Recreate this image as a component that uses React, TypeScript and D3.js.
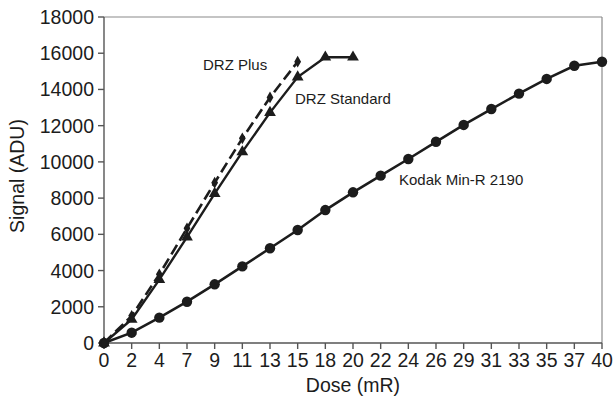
import React from 'react';
import * as d3 from 'd3';

const doseLabels = ['0', '2', '4', '7', '9', '11', '13', '15', '18', '20', '22', '24', '26', '29', '31', '33', '35', '37', '40'];
const kodak = [0, 570, 1400, 2280, 3240, 4230, 5230, 6240, 7340, 8320, 9240, 10160, 11110, 12040, 12920, 13770, 14580, 15310, 15530];
const drzStandard = [0, 1300, 3500, 5850, 8250, 10550, 12720, 14680, 15780, 15780];
const drzPlus = [0, 1500, 3790, 6330, 8850, 11300, 13560, 15530];
const yTicks = [0, 2000, 4000, 6000, 8000, 10000, 12000, 14000, 16000, 18000];

const W = 616;
const H = 399;
const M = { left: 104, right: 14, top: 17, bottom: 56 };
const FONT = '"Liberation Sans", Arial, sans-serif';
const INK = '#1c1c1c';

export default function App() {
  const x = d3.scaleLinear().domain([0, doseLabels.length - 1]).range([M.left, W - M.right]);
  const y = d3.scaleLinear().domain([0, 18000]).range([H - M.bottom, M.top]);
  const line = d3.line<number>().x((_, i) => x(i)).y(d => y(d));

  const tri = d3.symbol().type(d3.symbolTriangle).size(60)();
  const diamond = d3.symbol().type(d3.symbolDiamond).size(40)();

  const x0 = x(0), x1 = x(doseLabels.length - 1), y0 = y(0), y1 = y(18000);

  return (
    <svg width={W} height={H} style={{ position: 'absolute', left: 0, top: 0, background: '#fff' }} fontFamily={FONT}>
      {/* frame */}
      <line x1={x0} x2={x1} y1={y1} y2={y1} stroke="#8a8a8a" strokeWidth={1.2} />
      <line x1={x1} x2={x1} y1={y1} y2={y0} stroke="#8a8a8a" strokeWidth={1.2} />
      {/* y axis */}
      <line x1={x0} x2={x0} y1={y1} y2={y0} stroke="#555" strokeWidth={1.4} />
      {yTicks.map(t => (
        <g key={t}>
          <line x1={x0 - 6} x2={x0} y1={y(t)} y2={y(t)} stroke="#555" strokeWidth={1.4} />
          <text x={x0 - 10} y={y(t)} dy="0.36em" textAnchor="end" fontSize={19.5} fill={INK}>{t}</text>
        </g>
      ))}
      {/* x axis */}
      <line x1={x0} x2={x1} y1={y0} y2={y0} stroke="#555" strokeWidth={1.4} />
      {doseLabels.map((d, i) => (
        <g key={i}>
          <line x1={x(i)} x2={x(i)} y1={y0} y2={y0 + 6} stroke="#555" strokeWidth={1.4} />
          <text x={x(i)} y={y0 + 24} textAnchor="middle" fontSize={19.5} fill={INK}>{d}</text>
        </g>
      ))}
      <text x={(x0 + x1) / 2} y={392} textAnchor="middle" fontSize={19.5} fill={INK}>Dose (mR)</text>
      <text transform={`translate(24,${(y0 + y1) / 2 - 4}) rotate(-90)`} textAnchor="middle" fontSize={19.5} fill={INK}>Signal (ADU)</text>

      {/* series */}
      <path d={line(kodak) ?? ''} fill="none" stroke={INK} strokeWidth={2.6} />
      {kodak.map((v, i) => <circle key={i} cx={x(i)} cy={y(v)} r={5.2} fill={INK} />)}

      <path d={line(drzStandard) ?? ''} fill="none" stroke={INK} strokeWidth={2.4} />
      {drzStandard.map((v, i) => <path key={i} d={tri ?? ''} transform={`translate(${x(i)},${y(v)})`} fill={INK} />)}

      <path d={line(drzPlus) ?? ''} fill="none" stroke={INK} strokeWidth={2.6} strokeDasharray="11,5" />
      {drzPlus.map((v, i) => <path key={i} d={diamond ?? ''} transform={`translate(${x(i)},${y(v)})`} fill={INK} />)}

      {/* labels */}
      <text x={203} y={70} fontSize={15} fill={INK}>DRZ Plus</text>
      <text x={295} y={104} fontSize={15} fill={INK}>DRZ Standard</text>
      <text x={399} y={185} fontSize={15} fill={INK}>Kodak Min-R 2190</text>
    </svg>
  );
}
